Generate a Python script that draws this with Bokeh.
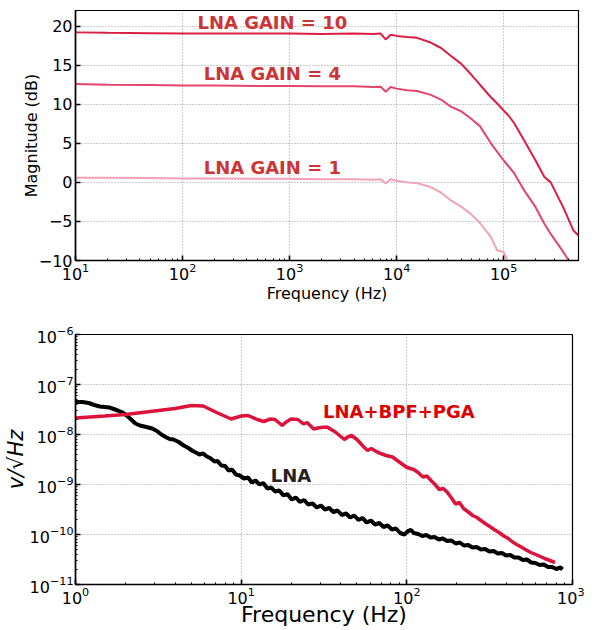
from bokeh.plotting import figure
from bokeh.layouts import column
from bokeh.models import Range1d, FixedTicker, CustomJSTickFormatter, Label
from bokeh.embed import file_html
from bokeh.resources import INLINE

# ---------------- data: top panel (frequency response) ----------------
freq_hz = [10, 20, 50, 100, 200, 500, 1e3, 2e3, 4e3, 6e3, 7.1e3, 7.9e3, 8.8e3,
           1e4, 1.25e4, 1.55e4, 2.08e4, 2.6e4, 3.2e4, 4e4, 4.9e4, 6e4, 7.6e4,
           8.7e4, 1e5, 1.12e5, 1.25e5, 1.55e5, 1.95e5, 2.4e5, 2.75e5, 3.6e5,
           4.5e5, 5e5]
gain10_db = [19.2, 19.15, 19.1, 19.05, 19.05, 19.05, 19.05, 19.0, 19.05, 19.0,
             19.05, 18.3, 18.9, 18.75, 18.6, 18.5, 17.9, 17.2, 16.2, 15.2, 13.9,
             12.5, 10.9, 10.1, 9.2, 8.5, 7.6, 5.4, 3.0, 0.7, 0.0, -3.2, -6.2, -6.8]
gain4_db = [12.6, 12.5, 12.45, 12.4, 12.4, 12.35, 12.35, 12.3, 12.3, 12.2,
            12.25, 11.6, 12.2, 12.0, 11.8, 11.7, 11.2, 10.6, 9.7, 9.1, 8.2,
            7.2, 5.0, 3.9, 2.8, 2.0, 1.2, -1.0, -3.0, -5.3, -6.6, -8.9, -11.0, -12.0]
gain1_db = [0.6, 0.6, 0.55, 0.5, 0.5, 0.45, 0.45, 0.4, 0.4, 0.35, 0.4, -0.15,
            0.4, 0.2, 0.0, -0.1, -0.6, -1.3, -2.3, -3.1, -4.0, -5.2, -7.0, -8.7,
            -8.9, -10.5, -11.5, -14.0, -17.0, -20.0, -22.0, -26.0, -30.0, -32.0]
gain_labels = ["LNA GAIN = 10", "LNA GAIN = 4", "LNA GAIN = 1"]
gain_label_f = [690, 690, 690]
gain_label_db = [20.5, 14.0, 1.9]
top_yticks = [-10, -5, 0, 5, 10, 15, 20]
top_xticks = [10, 100, 1000, 10000, 100000]

# ---------------- data: bottom panel (noise density) ----------------
f_sys = [1, 1.5, 2, 3, 4, 5, 5.9, 7, 8.7, 10, 11, 12.5, 13.7, 15, 16, 17.7,
         18.5, 20, 22, 23.8, 25, 27.4, 30, 33, 37, 42, 44, 46.4, 50, 55, 58,
         61, 67, 75, 82, 90, 99, 105, 110, 117, 125, 132, 140, 148, 157, 166,
         175, 186, 197, 208, 220, 235, 250, 265, 280, 300, 320, 340, 360, 385,
         410, 435, 460, 490, 520, 560, 600, 640, 680, 730, 784]
v_sys_exp = [-7.67, -7.63, -7.60, -7.53, -7.48, -7.42, -7.43, -7.55, -7.69,
             -7.63, -7.62, -7.70, -7.74, -7.69, -7.70, -7.82, -7.76, -7.69,
             -7.70, -7.79, -7.76, -7.89, -7.86, -7.85, -7.95, -8.10, -8.05,
             -8.02, -8.10, -8.25, -8.32, -8.28, -8.36, -8.42, -8.45, -8.55,
             -8.65, -8.68, -8.70, -8.76, -8.85, -8.83, -8.92, -9.00, -9.10,
             -9.08, -9.15, -9.27, -9.39, -9.36, -9.48, -9.55, -9.62, -9.66,
             -9.72, -9.79, -9.85, -9.91, -9.96, -10.03, -10.08, -10.15, -10.20,
             -10.25, -10.30, -10.36, -10.40, -10.44, -10.48, -10.52, -10.56]
f_lna = [1.0, 1.1, 1.2, 1.3, 1.4, 1.5, 1.6, 1.7, 1.8, 1.9, 2.0, 2.1, 2.2, 2.3,
         2.45, 2.6, 2.75, 2.9, 3.1, 3.3, 3.5, 3.7, 3.9, 4.2, 4.5, 4.8, 5.1,
         5.4, 5.6, 5.9, 6.2, 6.5, 6.9, 7.2, 7.6, 8.0, 8.4, 8.8, 9.3, 9.8, 10.4,
         11.0, 11.6, 12.2, 12.9, 13.6, 14.4, 15.2, 16.0, 17.0, 18.0, 19.0,
         20.2, 21.4, 22.6, 24.0, 25.4, 27.0, 28.6, 30.3, 32.0, 34.0, 36.0,
         38.2, 40.5, 43.0, 45.5, 48.2, 51.0, 54.0, 57.3, 60.7, 64.3, 68.2,
         72.3, 76.6, 81.2, 86.0, 91.2, 96.6, 102, 106, 110, 117, 124, 131, 139,
         147, 156, 165, 175, 186, 197, 209, 221, 235, 249, 264, 280, 297, 315,
         334, 354, 375, 397, 421, 446, 473, 501, 531, 563, 597, 633, 671, 711,
         754, 799, 847, 870]
v_lna_exp = [-7.35, -7.35, -7.37, -7.41, -7.44, -7.45, -7.46, -7.49, -7.52,
             -7.55, -7.60, -7.66, -7.72, -7.78, -7.82, -7.84, -7.86, -7.88,
             -7.93, -8.00, -8.05, -8.09, -8.10, -8.15, -8.22, -8.27, -8.33,
             -8.37, -8.40, -8.38, -8.44, -8.47, -8.54, -8.53, -8.62, -8.63,
             -8.72, -8.70, -8.80, -8.82, -8.88, -8.86, -8.96, -8.92, -9.00,
             -8.97, -9.08, -9.06, -9.14, -9.12, -9.22, -9.19, -9.30, -9.26,
             -9.35, -9.31, -9.40, -9.38, -9.46, -9.42, -9.50, -9.47, -9.55,
             -9.52, -9.61, -9.58, -9.66, -9.62, -9.71, -9.67, -9.76, -9.72,
             -9.80, -9.77, -9.85, -9.82, -9.90, -9.88, -9.97, -10.00, -9.93,
             -9.91, -9.97, -9.99, -10.03, -10.01, -10.06, -10.05, -10.10,
             -10.08, -10.13, -10.12, -10.18, -10.16, -10.22, -10.21, -10.26,
             -10.25, -10.30, -10.29, -10.34, -10.33, -10.38, -10.37, -10.42,
             -10.41, -10.46, -10.46, -10.51, -10.50, -10.56, -10.57, -10.61,
             -10.60, -10.65, -10.65, -10.69, -10.66, -10.70]
v_sys = [10 ** e for e in v_sys_exp]
v_lna = [10 ** e for e in v_lna_exp]
noise_labels = ["LNA+BPF+PGA", "LNA"]
noise_label_f = [89.5, 20.0]
noise_label_v = [10 ** -7.53, 10 ** -8.82]

FONT = "DejaVu Sans"


def style_axes(p, tick_size, label_size):
    for ax in (p.xaxis[0], p.yaxis[0]):
        ax.axis_line_color = "black"
        ax.axis_line_width = 1.6
        ax.major_tick_in = 5
        ax.major_tick_out = 0
        ax.minor_tick_in = 2
        ax.minor_tick_out = 0
        ax.major_tick_line_width = 1.6
        ax.major_tick_line_color = "black"
        ax.minor_tick_line_color = "black"
        ax.major_label_text_font = FONT
        ax.major_label_text_font_size = f"{tick_size}px"
        ax.major_label_text_color = "black"
        ax.axis_label_text_font = FONT
        ax.axis_label_text_font_size = f"{label_size}px"
        ax.axis_label_text_font_style = "normal"
        ax.axis_label_text_color = "black"
        ax.major_label_standoff = 2
        ax.axis_label_standoff = 3
    p.grid.grid_line_color = "#999999"
    p.grid.grid_line_dash = "1 2"
    p.grid.grid_line_width = 1
    p.outline_line_color = "black"
    p.outline_line_width = 1.2
    p.background_fill_color = "white"
    p.border_fill_color = "white"


# ---------------- top panel ----------------
top = figure(frame_width=503, frame_height=250, x_axis_type="log", title=None,
             output_backend="svg", toolbar_location=None,
             x_range=Range1d(10, 5e5), y_range=Range1d(-10, 22),
             min_border_left=67, min_border_right=11, min_border_top=10,
             min_border_bottom=46)
style_axes(top, 16, 16)
top.xaxis.axis_label = "Frequency (Hz)"
top.yaxis.axis_label = "Magnitude (dB)"
top.yaxis.major_label_standoff = 3
top.yaxis.axis_label_standoff = -5
top.xaxis.axis_label_standoff = 1
top.yaxis.ticker = FixedTicker(ticks=top_yticks)
top.yaxis.formatter = CustomJSTickFormatter(
    code='return tick < 0 ? "\u2212" + Math.abs(tick) : String(tick);')
top.xgrid.ticker = FixedTicker(ticks=top_xticks)

top.line(freq_hz, gain10_db, line_color="#dc1e44", line_width=2)
top.line(freq_hz, gain4_db, line_color="#e4456b", line_width=2)
top.line(freq_hz, gain1_db, line_color="#f2a2b4", line_width=2)
for t, fx, dy in zip(gain_labels, gain_label_f, gain_label_db):
    top.add_layout(Label(x=fx, y=dy, text=t, text_align="center",
                         text_baseline="middle", text_font=FONT,
                         text_font_size="18px", text_font_style="bold",
                         text_color="#cc3535"))

# ---------------- bottom panel ----------------
bot = figure(frame_width=497, frame_height=250, x_axis_type="log", title=None,
             y_axis_type="log", output_backend="svg", toolbar_location=None,
             x_range=Range1d(1, 1000), y_range=Range1d(1e-11, 1e-6),
             min_border_left=72, min_border_right=12, min_border_top=28,
             min_border_bottom=45)
style_axes(bot, 16, 22)
bot.xaxis.axis_label = "Frequency (Hz)"
bot.yaxis.axis_label = "v/\u221aHz"
bot.yaxis.axis_label_text_font_size = "21px"
bot.yaxis.axis_label_text_font_style = "italic"
bot.xaxis.axis_label_standoff = -5
bot.yaxis.axis_label_standoff = -1

bot.line(f_lna, v_lna, line_color="black", line_width=4)
bot.line(f_sys, v_sys, line_color="#dc143c", line_width=3.5)
bot.add_layout(Label(x=noise_label_f[0], y=noise_label_v[0], text=noise_labels[0],
                     text_align="center", text_baseline="middle", text_font=FONT,
                     text_font_size="18px", text_font_style="bold",
                     text_color="#dd0000"))
bot.add_layout(Label(x=noise_label_f[1], y=noise_label_v[1], text=noise_labels[1],
                     text_align="center", text_baseline="middle", text_font=FONT,
                     text_font_size="18px", text_font_style="bold",
                     text_color="#222222"))

layout = column(top, bot, spacing=0)
open("out.html", "w").write(file_html(layout, INLINE))
